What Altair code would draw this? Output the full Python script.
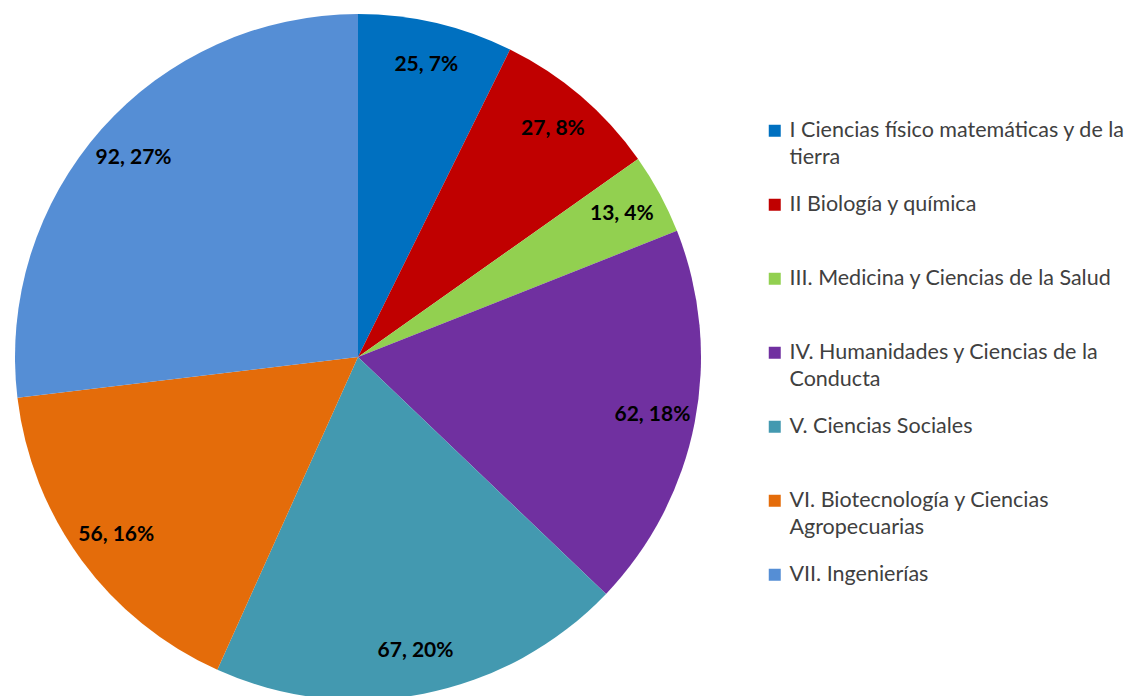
import altair as alt
import pandas as pd

categories = [
    "I Ciencias físico matemáticas  y de la\ntierra",
    "II Biología y química\n",
    "III. Medicina y Ciencias de la Salud\n",
    "IV. Humanidades y Ciencias de la\nConducta",
    "V. Ciencias Sociales\n",
    "VI. Biotecnología y Ciencias\nAgropecuarias",
    "VII. Ingenierías\n",
]
values = [25, 27, 13, 62, 67, 56, 92]
colors = ["#0070C0", "#C00000", "#92D050", "#7030A0", "#4399B0", "#E46C0A", "#558ED5"]

total = sum(values)
df = pd.DataFrame({
    "cat": categories,
    "value": values,
    "order": list(range(len(values))),
    "label": [f"{v}, {round(v / total * 100)}%" for v in values],
})

base = alt.Chart(df).encode(
    theta=alt.Theta("value:Q", stack=True),
    order=alt.Order("order:Q"),
)

pie = base.mark_arc(outerRadius=343).encode(
    color=alt.Color(
        "cat:N",
        scale=alt.Scale(domain=categories, range=colors),
        sort=categories,
        legend=alt.Legend(
            title=None,
            orient="none",
            legendX=756,
            legendY=112,
            symbolType="square",
            symbolSize=144,
            symbolStrokeWidth=0,
            labelFont="Lato",
            labelFontSize=21.5,
            labelColor="#404040",
            labelLimit=420,
            labelOffset=4,
            labelExpr="split(datum.label, '\\n')",
            rowPadding=24,
        ),
    )
)

text = base.mark_text(
    radius=300, font="Lato", fontSize=21, fontWeight="bold", color="black"
).encode(text="label:N")

chart = (
    (pie + text)
    .properties(width=700, height=698, padding=0)
    .configure_view(stroke=None)
    .configure(style={"guide-label": {"lineHeight": 27}})
)

chart.save("out.html", embed_options={"renderer": "svg", "actions": False})
